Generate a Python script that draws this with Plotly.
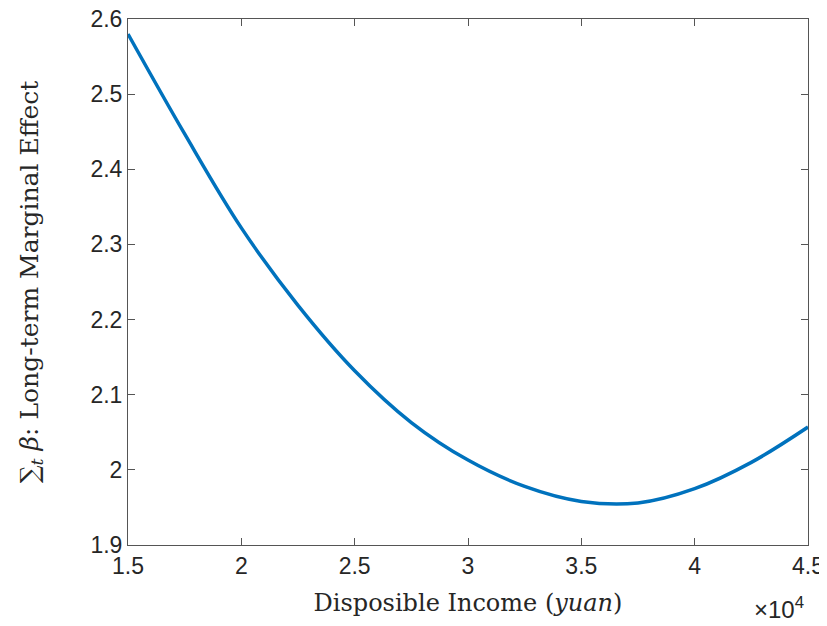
import plotly.graph_objects as go

# Data (x in yuan)
income = [15000, 17500, 20000, 22500, 25000, 27500, 30000, 32500, 35000,
          37500, 40000, 42500, 45000]
effect = [2.580, 2.447, 2.322, 2.219, 2.132, 2.063, 2.013, 1.978, 1.958,
          1.956, 1.975, 2.010, 2.057]

x_tickvals = [15000, 20000, 25000, 30000, 35000, 40000, 45000]
x_ticktext = ["1.5", "2", "2.5", "3", "3.5", "4", "4.5"]
y_tickvals = [1.9, 2.0, 2.1, 2.2, 2.3, 2.4, 2.5, 2.6]
y_ticktext = ["1.9", "2", "2.1", "2.2", "2.3", "2.4", "2.5", "2.6"]

fig = go.Figure()
fig.add_trace(go.Scatter(x=income, y=effect, mode="lines",
                         line=dict(color="#0072BD", width=3.5, shape="spline", smoothing=1.0),
                         showlegend=False))

axis_common = dict(showline=True, linecolor="#555555", linewidth=1, mirror="ticks",
                   ticks="inside", ticklen=7, tickcolor="#555555", showgrid=False,
                   zeroline=False, automargin=False, ticklabeloverflow="allow",
                   tickfont=dict(family="Liberation Sans, Arial", size=23, color="#262626"))

title_font_x = dict(family="DejaVu Serif", size=24, color="#262626")
title_font_y = dict(family="DejaVu Serif", size=25, color="#262626")

# page body has an 8px margin, so the figure is sized/offset accordingly
fig.update_layout(
    width=819, height=618,
    margin=dict(l=120, r=19, t=11, b=81),
    paper_bgcolor="white", plot_bgcolor="white",
    xaxis=dict(range=[15000, 45000], tickvals=x_tickvals, ticktext=x_ticktext,
               title=dict(text="Disposible Income (<i>yuan</i>)", standoff=16, font=title_font_x),
               **axis_common),
    yaxis=dict(range=[1.9, 2.6], tickvals=y_tickvals, ticktext=y_ticktext,
               title=dict(text="∑<sub><i>t</i></sub> <i>β</i>: Long-term Marginal Effect", standoff=44,
                          font=title_font_y),
               **axis_common),
)
fig.add_annotation(text="×10<sup>4</sup>", xref="paper", yref="paper", x=1.0, y=0,
                   xanchor="right", yanchor="top", yshift=-46, xshift=-2, showarrow=False,
                   font=dict(family="Liberation Sans, Arial", size=24, color="#262626"))

fig.write_html("out.html")
